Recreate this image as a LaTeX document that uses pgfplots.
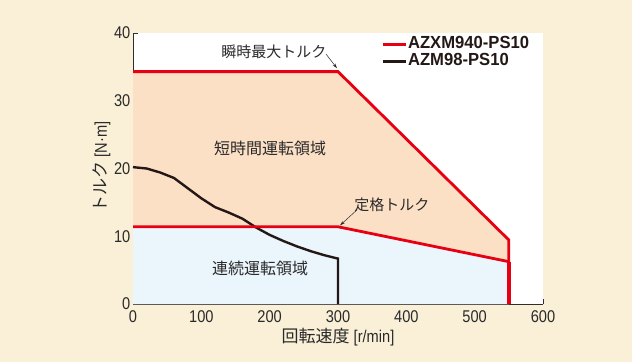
\documentclass[border=0pt]{standalone}
\usepackage{fontspec}
\setmainfont[FakeStretch=0.86]{Liberation Sans}
\newfontfamily\jp{Noto Sans CJK JP}
\newfontfamily\legfont[FakeStretch=0.95]{Liberation Sans}
\usepackage{pgfplots}
\pgfplotsset{compat=1.18}
\usetikzlibrary{arrows.meta}
\definecolor{cream}{HTML}{FAF0D8}
\definecolor{peach}{HTML}{FCE0C6}
\definecolor{lblue}{HTML}{EBF5FC}
\definecolor{mred}{HTML}{E60012}
\definecolor{mblack}{HTML}{231815}
\definecolor{axisgray}{HTML}{2E2E2E}
\definecolor{textdark}{HTML}{2A2A2A}
\begin{document}
\begin{tikzpicture}
\fill[cream] (-133bp,-58bp) rectangle (499bp,304bp);
\begin{axis}[
  at={(0,0)}, anchor=south west,
  scale only axis, width=410bp, height=271bp,
  xmin=0, xmax=600, ymin=0, ymax=40,
  axis x line=bottom, axis y line=left,
  axis line style={-, draw=axisgray, line width=0.9bp},
  axis background/.style={fill=white},
  xtick={0,100,...,600}, ytick={0,10,...,40},
  tick align=inside, major tick length=5bp,
  tick style={axisgray, line width=0.9bp},
  /pgf/number format/assume math mode=true,
  ticklabel style={font=\fontsize{17bp}{17bp}\selectfont, text=textdark},
  yticklabel style={inner sep=2.5bp},
  xticklabel style={inner sep=0pt, yshift=-6.5bp},
  xlabel={{\jp 回転速度} [r/min]},
  ylabel={{\jp トルク} [N·m]},
  label style={font=\fontsize{17bp}{17bp}\selectfont, text=textdark},
  xlabel style={at={(axis description cs:0.5,-0.124)}, anchor=center},
  ylabel style={at={(axis description cs:-0.076,0.506)}, anchor=center},
  legend style={at={(axis description cs:0.605,0.99)}, anchor=north west,
    draw=none, fill=none, inner sep=0pt, row sep=0pt,
    font=\legfont\bfseries\fontsize{17.5bp}{17bp}\selectfont, text=mblack,
    nodes={inner sep=1bp, text height=12bp, text depth=3bp}},
  legend cell align=left,
  legend image code/.code={\draw[#1] (0bp,0bp) -- (23bp,0bp);},
  clip=false,
]
% short-time region (peach)
\addplot[fill=peach, draw=none, forget plot] coordinates {(0,0) (0,34.3) (300,34.3) (550,9.45) (550,0)} -- cycle;
% continuous region (light blue)
\addplot[fill=lblue, draw=none, forget plot] coordinates {(0,0) (0,11.4) (300,11.4) (550,6.25) (550,0)} -- cycle;
% AZM98-PS10 curve
\addplot[mblack, line width=2.4bp, forget plot] coordinates {
 (0,20.2) (20,20.0) (40,19.4) (60,18.6) (80,17.1) (100,15.6) (120,14.3)
 (140,13.5) (160,12.6) (180,11.3) (200,10.2) (220,9.3) (240,8.5)
 (260,7.8) (280,7.2) (300,6.7) (300,0)};
% AZXM940-PS10 rated torque
\addplot[mred, line width=2.8bp, forget plot] coordinates {(0,11.4) (300,11.4) (550,6.25)};
% AZXM940-PS10 peak torque
\addplot[mred, line width=2.8bp, line join=miter, forget plot] coordinates {(0,34.3) (300,34.3) (550,9.45) (550,0)};
\addplot[mred, line width=3.6bp, forget plot] coordinates {(550,6.25) (550,0)};
\addlegendimage{mred, line width=2.8bp}
\addlegendentry{AZXM940-PS10}
\addlegendimage{mblack, line width=2.4bp}
\addlegendentry{AZM98-PS10}
% annotations
\node[font=\jp\fontsize{15bp}{16bp}\selectfont, text=textdark] at (axis cs:206,37.2) {瞬時最大トルク};
\draw[textdark, line width=0.5bp, -{Stealth[length=5bp, width=3bp]}] (axis cs:282.4,36.9) -- (axis cs:298.5,34.8);
\node[font=\jp\fontsize{16bp}{17bp}\selectfont, text=textdark] at (axis cs:200.5,23.0) {短時間運転領域};
\node[font=\jp\fontsize{15bp}{16bp}\selectfont, text=textdark] at (axis cs:379,14.6) {定格トルク};
\draw[textdark, line width=0.5bp, -{Stealth[length=5bp, width=3bp]}] (axis cs:327.8,13.9) -- (axis cs:303,11.6);
\node[font=\jp\fontsize{16bp}{17bp}\selectfont, text=textdark] at (axis cs:185.9,5.3) {連続運転領域};
\end{axis}
\end{tikzpicture}
\end{document}
